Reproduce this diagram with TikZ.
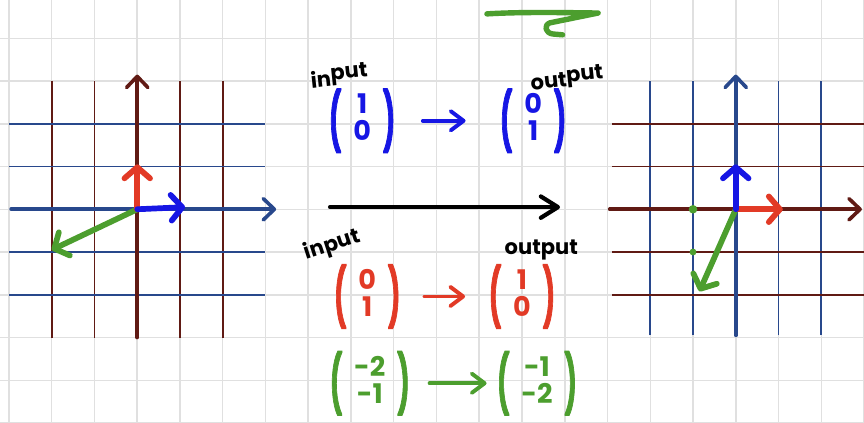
\documentclass[tikz,border=0pt]{standalone}
\usepackage{amsmath}
\usepackage{fontspec}
\setmainfont{Poppins}
\newfontfamily\parenfont{Poppins}[FakeBold=2.5]
\usetikzlibrary{arrows.meta,positioning}
\definecolor{brick}{RGB}{96,26,20}
\definecolor{navy}{RGB}{40,72,140}
\definecolor{vred}{RGB}{226,58,38}
\definecolor{vblue}{RGB}{22,22,228}
\definecolor{vgreen}{RGB}{76,158,46}
\definecolor{paper}{RGB}{224,224,224}
\newcommand{\colv}[2]{\raisebox{-9pt}{\parenfont\scalebox{0.95}[2.1]{(}}\hspace{8pt}%
 \begin{tabular}{@{}c@{}}#1\\[-3pt]#2\end{tabular}\hspace{8pt}%
 \raisebox{-9pt}{\parenfont\scalebox{0.95}[2.1]{)}}}

\begin{document}
\begin{tikzpicture}[>={Straight Barb[round]},
 grd/.style={paper,line width=1pt},
 rline/.style={brick,line width=1.2pt},
 bline/.style={navy,line width=1.2pt},
 axis/.style={line width=2.4pt,line cap=round,-{Straight Barb[round,length=2.6mm,width=5mm]}},
 vec/.style={line width=3.8pt,line cap=round,-{Straight Barb[round,length=2.6mm,width=6mm]}},
 map/.style={line width=2.6pt,line cap=round,-{Straight Barb[round,length=3mm,width=4.5mm]}},
 hand/.style={font=\fontsize{14}{14}\selectfont\bfseries,inner sep=0pt},
 colvec/.style={font=\fontsize{18}{21}\selectfont\bfseries,inner sep=0pt}]
\useasboundingbox (-0.21,0.02) rectangle (20.0,9.895);
\fill[white] (-0.21,0.02) rectangle (20.0,9.895);
\draw[grd] (-0.5,-0.5) grid (20.5,10.5);

\foreach \x in {1,2,4,5} \draw[rline] (\x,2) -- (\x,8);
\foreach \y in {3,4,6,7} \draw[bline] (0,\y) -- (6,\y);
\draw[axis,navy] (0.05,5) -- (6.25,5);
\draw[axis,brick] (3,2) -- (3,8.15);

\foreach \x in {15,16,18,19} \draw[bline] (\x,2.05) -- (\x,8);
\foreach \y in {3,4,6,7} \draw[rline] (14.1,\y) -- (20.1,\y);
\draw[axis,brick] (14.05,5) -- (19.95,5);
\draw[axis,navy] (17,2.05) -- (17,8.15);

\coordinate (lo) at (3,5);
\coordinate (li) at (4.12,5.05);
\coordinate (lj) at (3,6.05);
\coordinate (lv) at (1,4.05);
\draw[vec,vgreen] (lo) -- (lv);
\draw[vec,vred] (lo) -- (lj);
\draw[vec,vblue] (lo) -- (li);

\coordinate (ro) at (17,5);
\coordinate (ri) at (18.1,5);
\coordinate (rj) at (17,6.05);
\coordinate (rv) at (16.15,3.08);
\fill[vgreen] (16,5) circle (0.1);
\fill[vgreen] (16,4) circle (0.08);
\draw[vec,vgreen] (ro) -- (rv);
\draw[vec,vred] (ro) -- (ri);
\draw[vec,vblue] (ro) -- (rj);

\node[colvec,vblue] (bin) at (8.26,7.07) {\colv{1}{0}};
\node[colvec,vblue] (bout) at (12.26,7.07) {\colv{0}{1}};
\node[colvec,vred] (rin) at (8.38,2.96) {\colv{0}{1}};
\node[colvec,vred] (rout) at (12.0,2.96) {\colv{1}{0}};
\node[colvec,vgreen] (gin) at (8.44,0.93) {\colv{-2}{-1}};
\node[colvec,vgreen] (gout) at (12.35,0.93) {\colv{-1}{-2}};

\node[hand,rotate=6] (bil) at (7.72,8.14) {in\raisebox{4pt}{put}};
\node[hand,rotate=6] (bol) at (13.05,8.08) {out\raisebox{3pt}{put}};
\node[hand,rotate=18] (ril) at (7.56,4.16) {input};
\node[hand] (rol) at (12.45,4.05) {output};

\draw[map,vblue,shorten <=6.4mm,shorten >=8mm] (bin) -- (bout);
\draw[map,vred,shorten <=5.6mm,shorten >=5.5mm] (rin) -- (rout);
\draw[map,vgreen,shorten <=4.6mm,shorten >=2.4mm] (gin) -- (gout);
\coordinate (ms) at (7.51,5.05);
\coordinate (me) at (12.89,5.05);
\draw[map,line width=2.8pt,-{Straight Barb[round,length=4mm,width=5mm]}] (ms) -- (me);

\draw[vgreen,line width=3.6pt,line cap=round,line join=round] (11.18,9.57)
 .. controls (12,9.62) and (13,9.6) .. (13.78,9.59)
 -- (12.65,9.36)
 .. controls (12.5,9.3) and (12.55,9.12) .. (12.72,9.1)
 -- (12.95,9.08);
\end{tikzpicture}
\end{document}
